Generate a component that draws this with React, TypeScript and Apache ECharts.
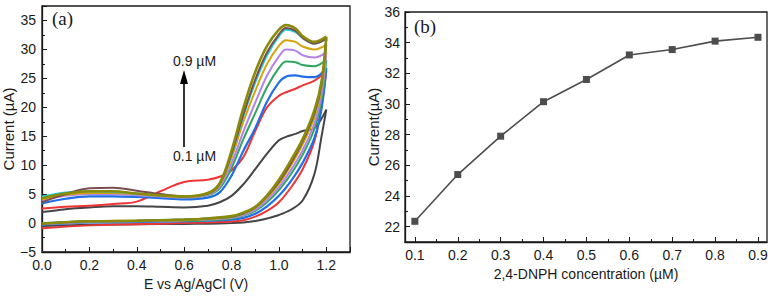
import React, { useEffect, useRef } from "react";
import * as echarts from "echarts";

// ---------- Panel (a): cyclic voltammograms ----------
const upperE = [0, 0.1, 0.2, 0.3, 0.4, 0.5, 0.6, 0.7, 0.75, 0.8, 0.85, 0.9, 0.95, 1.0, 1.03, 1.07, 1.1, 1.15, 1.2];
const lowerE = [1.2, 1.18, 1.15, 1.1, 1.05, 1.0, 0.95, 0.9, 0.85, 0.8, 0.7, 0.6, 0.4, 0.2, 0];

const grayUp = [1.9, 2.4, 2.7, 2.9, 2.9, 2.8, 2.7, 3.0, 3.6, 4.7, 6.7, 9.3, 12.0, 14.3, 14.9, 15.4, 15.9, 16.4, 19.6];
const grayDown = [19.6, 15.0, 8.5, 3.9, 2.3, 1.4, 0.8, 0.35, 0.1, 0.0, -0.1, -0.15, -0.2, -0.3, -0.5];
const redUp = [2.5, 2.8, 3.0, 3.3, 3.7, 5.5, 7.1, 7.5, 8.0, 9.1, 11.4, 15.9, 20.0, 22.0, 22.6, 23.2, 23.8, 24.6, 26.3];
const redDown = [26.3, 20.3, 14.2, 9.3, 6.1, 3.6, 2.1, 1.1, 0.5, 0.25, 0.1, 0.0, -0.2, -0.4, -0.9];
const blueUp = [3.4, 4.2, 4.6, 4.6, 4.5, 4.3, 4.1, 4.4, 5.3, 8.2, 12.5, 16.4, 21.0, 24.3, 25.3, 25.5, 25.3, 25.2, 26.8];
const blueDown = [26.8, 19.8, 14.7, 10.4, 7.2, 4.7, 2.9, 1.6, 0.9, 0.6, 0.4, 0.3, 0.2, 0.1, -0.3];
const greenUp = [4.4, 5.0, 5.1, 5.1, 4.9, 4.7, 4.4, 4.8, 6.0, 9.5, 14.5, 19.0, 23.5, 26.8, 27.9, 27.8, 27.3, 27.1, 28.2];
const greenDown = [28.2, 21.4, 16.3, 11.8, 8.4, 5.7, 3.6, 2.1, 1.3, 0.8, 0.5, 0.4, 0.3, 0.2, -0.2];
const purpleUp = [4.0, 4.7, 5.0, 5.0, 4.8, 4.6, 4.4, 4.9, 6.3, 10.3, 15.8, 20.8, 25.5, 28.8, 30.0, 29.8, 29.0, 28.6, 29.5];
const purpleDown = [29.5, 22.3, 17.2, 12.6, 9.1, 6.2, 4.0, 2.3, 1.4, 0.9, 0.6, 0.5, 0.3, 0.2, -0.2];
const goldUp = [4.1, 4.9, 5.2, 5.2, 5.0, 4.7, 4.5, 5.0, 6.6, 11.3, 17.5, 22.8, 27.5, 30.6, 31.6, 31.3, 30.5, 30.0, 30.8];
const goldDown = [30.8, 23.3, 18.3, 13.6, 9.9, 6.8, 4.4, 2.6, 1.6, 1.0, 0.7, 0.5, 0.4, 0.3, -0.1];
const cyanUp = [4.6, 5.3, 5.5, 5.4, 5.1, 4.8, 4.6, 5.1, 6.8, 11.8, 18.5, 24.3, 29.0, 32.3, 33.4, 33.0, 32.0, 31.0, 31.8];
const cyanDown = [31.8, 24.0, 19.0, 14.2, 10.4, 7.2, 4.7, 2.7, 1.7, 1.1, 0.8, 0.6, 0.4, 0.3, 0.0];
const brownUp = [3.6, 5.0, 6.0, 6.1, 5.6, 5.0, 4.6, 5.1, 6.8, 12.0, 18.8, 24.8, 29.5, 32.6, 33.7, 33.2, 32.0, 31.0, 31.9];
const brownDown = [31.9, 24.0, 19.0, 14.1, 10.3, 7.1, 4.6, 2.7, 1.7, 1.1, 0.8, 0.6, 0.4, 0.3, -0.1];
const oliveUp = [4.3, 5.1, 5.5, 5.5, 5.1, 4.8, 4.6, 5.2, 6.9, 12.5, 19.9, 26.1, 30.6, 33.4, 34.2, 33.6, 32.3, 31.3, 32.2];
const oliveDown = [32.2, 24.5, 19.5, 14.5, 10.8, 7.5, 4.8, 2.8, 1.8, 1.2, 0.8, 0.6, 0.4, 0.3, -0.1];

const cvCurves = [
  { name: "0.1 µM", color: "#454545", up: grayUp, down: grayDown, width: 2 },
  { name: "0.2 µM", color: "#ef3434", up: redUp, down: redDown, width: 2 },
  { name: "0.3 µM", color: "#1f6fe6", up: blueUp, down: blueDown, width: 2.2 },
  { name: "0.4 µM", color: "#2fa65e", up: greenUp, down: greenDown, width: 2 },
  { name: "0.5 µM", color: "#b483ea", up: purpleUp, down: purpleDown, width: 2 },
  { name: "0.6 µM", color: "#d4a20a", up: goldUp, down: goldDown, width: 2 },
  { name: "0.7 µM", color: "#1ccfd8", up: cyanUp, down: cyanDown, width: 2 },
  { name: "0.8 µM", color: "#7a4e4e", up: brownUp, down: brownDown, width: 2 },
  { name: "0.9 µM", color: "#8a8a0c", up: oliveUp, down: oliveDown, width: 2.6 },
];

// ---------- Panel (b): peak current vs concentration ----------
const concentrations = [0.1, 0.2, 0.3, 0.4, 0.5, 0.6, 0.7, 0.8, 0.9];
const peakCurrents = [22.35, 25.4, 27.9, 30.15, 31.6, 33.2, 33.55, 34.1, 34.35];
const bMajorX = [0.1, 0.2, 0.3, 0.4, 0.5, 0.6, 0.7, 0.8, 0.9];
const bMinorX = [0.15, 0.25, 0.35, 0.45, 0.55, 0.65, 0.75, 0.85];
const bMajorY = [22, 24, 26, 28, 30, 32, 34, 36];
const bMinorY = [23, 25, 27, 29, 31, 33, 35];

const SANS = '"Liberation Sans", Arial, Helvetica, sans-serif';
const SERIF = '"Liberation Serif", "Times New Roman", serif';
const INK = "#1a1a1a";

export default function App() {
  const ref = useRef<HTMLDivElement>(null);

  useEffect(() => {
    if (!ref.current) return;
    const chart = echarts.init(ref.current, undefined, { renderer: "svg" });

    const cvSeries: any[] = [];
    cvCurves.forEach((c) => {
      cvSeries.push({
        type: "line",
        name: c.name,
        xAxisIndex: 0,
        yAxisIndex: 0,
        data: upperE.map((e, i) => [e, c.up[i]]),
        smooth: 0.35,
        showSymbol: false,
        lineStyle: { color: c.color, width: c.width },
        itemStyle: { color: c.color },
        clip: true,
      });
      cvSeries.push({
        type: "line",
        name: c.name,
        xAxisIndex: 0,
        yAxisIndex: 0,
        data: lowerE.map((e, i) => [e, c.down[i]]),
        smooth: 0.35,
        showSymbol: false,
        lineStyle: { color: c.color, width: c.width },
        itemStyle: { color: c.color },
        clip: true,
      });
    });

    const tickLabel = { color: INK, fontFamily: SANS, fontSize: 14 };

    const option: any = {
      animation: false,
      grid: [
        { left: 39, top: 6, width: 311, height: 251, show: true, borderColor: INK, borderWidth: 1.3, backgroundColor: "transparent" },
        { left: 405, top: 12, width: 362, height: 230, show: true, borderColor: INK, borderWidth: 1.3, backgroundColor: "transparent" },
      ],
      xAxis: [
        {
          gridIndex: 0,
          type: "value",
          min: 0,
          max: 1.3,
          interval: 0.2,
          name: "E vs Ag/AgCl (V)",
          nameLocation: "middle",
          nameGap: 25,
          nameTextStyle: { color: INK, fontFamily: SANS, fontSize: 14 },
          axisLine: { show: true, onZero: false, lineStyle: { color: INK, width: 1.3 } },
          axisTick: { show: true, inside: true, length: 5, lineStyle: { color: INK } },
          minorTick: { show: true, splitNumber: 2, length: 3, lineStyle: { color: INK } },
          splitLine: { show: false },
          axisLabel: {
            ...tickLabel,
            margin: 6,
            formatter: (v: number) => (Math.abs(v / 0.2 - Math.round(v / 0.2)) < 1e-6 && v <= 1.2001 ? v.toFixed(1) : ""),
          },
        },
        {
          gridIndex: 1,
          type: "value",
          min: 0.077,
          max: 0.921,
          name: "2,4-DNPH concentration (µM)",
          nameLocation: "middle",
          nameGap: 22,
          nameTextStyle: { color: INK, fontFamily: SANS, fontSize: 14 },
          axisLine: { show: true, onZero: false, lineStyle: { color: INK, width: 1.3 } },
          axisTick: { show: true, inside: true, length: 5, customValues: bMajorX, lineStyle: { color: INK } },
          splitLine: { show: false },
          axisLabel: { ...tickLabel, margin: 6, customValues: bMajorX, formatter: (v: number) => v.toFixed(1) },
        },
        {
          gridIndex: 1,
          type: "value",
          position: "bottom",
          min: 0.077,
          max: 0.921,
          axisLine: { show: false },
          axisTick: { show: true, inside: true, length: 3, customValues: bMinorX, lineStyle: { color: INK } },
          axisLabel: { show: false },
          splitLine: { show: false },
        },
      ],
      yAxis: [
        {
          gridIndex: 0,
          type: "value",
          min: -5,
          max: 37.5,
          interval: 5,
          name: "Current (µA)",
          nameLocation: "middle",
          nameGap: 26,
          nameTextStyle: { color: INK, fontFamily: SANS, fontSize: 15 },
          axisLine: { show: true, onZero: false, lineStyle: { color: INK, width: 1.3 } },
          axisTick: { show: true, inside: true, length: 5, lineStyle: { color: INK } },
          minorTick: { show: true, splitNumber: 2, length: 3, lineStyle: { color: INK } },
          splitLine: { show: false },
          axisLabel: {
            ...tickLabel,
            margin: 6,
            formatter: (v: number) => {
              if (Math.abs(v % 5) > 1e-6 || v > 35.001) return "";
              return v < 0 ? "\u2212" + Math.abs(v) : String(v);
            },
          },
        },
        {
          gridIndex: 1,
          type: "value",
          min: 21,
          max: 36,
          name: "Current(µA)",
          nameLocation: "middle",
          nameGap: 24,
          nameTextStyle: { color: INK, fontFamily: SANS, fontSize: 15 },
          axisLine: { show: true, onZero: false, lineStyle: { color: INK, width: 1.3 } },
          axisTick: { show: true, inside: true, length: 5, customValues: bMajorY, lineStyle: { color: INK } },
          splitLine: { show: false },
          axisLabel: { ...tickLabel, margin: 5, customValues: bMajorY, formatter: (v: number) => String(v) },
        },
        {
          gridIndex: 1,
          type: "value",
          position: "left",
          min: 21,
          max: 36,
          axisLine: { show: false },
          axisTick: { show: true, inside: true, length: 3, customValues: bMinorY, lineStyle: { color: INK } },
          axisLabel: { show: false },
          splitLine: { show: false },
        },
      ],
      series: [
        ...cvSeries,
        {
          type: "line",
          name: "Peak current",
          xAxisIndex: 1,
          yAxisIndex: 1,
          data: concentrations.map((c, i) => [c, peakCurrents[i]]),
          symbol: "rect",
          symbolSize: 7,
          showSymbol: true,
          lineStyle: { color: "#4d4d4d", width: 1.6 },
          itemStyle: { color: "#4d4d4d" },
        },
      ],
      graphic: [
        { type: "text", left: 52, top: 9, style: { text: "(a)", fontFamily: SERIF, fontSize: 19, fill: INK } },
        { type: "text", left: 414, top: 17, style: { text: "(b)", fontFamily: SERIF, fontSize: 19, fill: INK } },
        { type: "text", left: 173, top: 54, style: { text: "0.9 µM", fontFamily: SANS, fontSize: 14, fill: INK } },
        { type: "text", left: 173, top: 149, style: { text: "0.1 µM", fontFamily: SANS, fontSize: 14, fill: INK } },
        { type: "line", shape: { x1: 184, y1: 147, x2: 184, y2: 80 }, style: { stroke: "#000", lineWidth: 1.6 } },
        { type: "polygon", shape: { points: [[184, 70], [180, 84], [188, 84]] }, style: { fill: "#000" } },
      ],
    };

    chart.setOption(option);
    return () => chart.dispose();
  }, []);

  return (
    <div
      ref={ref}
      style={{ position: "fixed", left: 0, top: 0, width: 771, height: 296, background: "#fff" }}
    />
  );
}
